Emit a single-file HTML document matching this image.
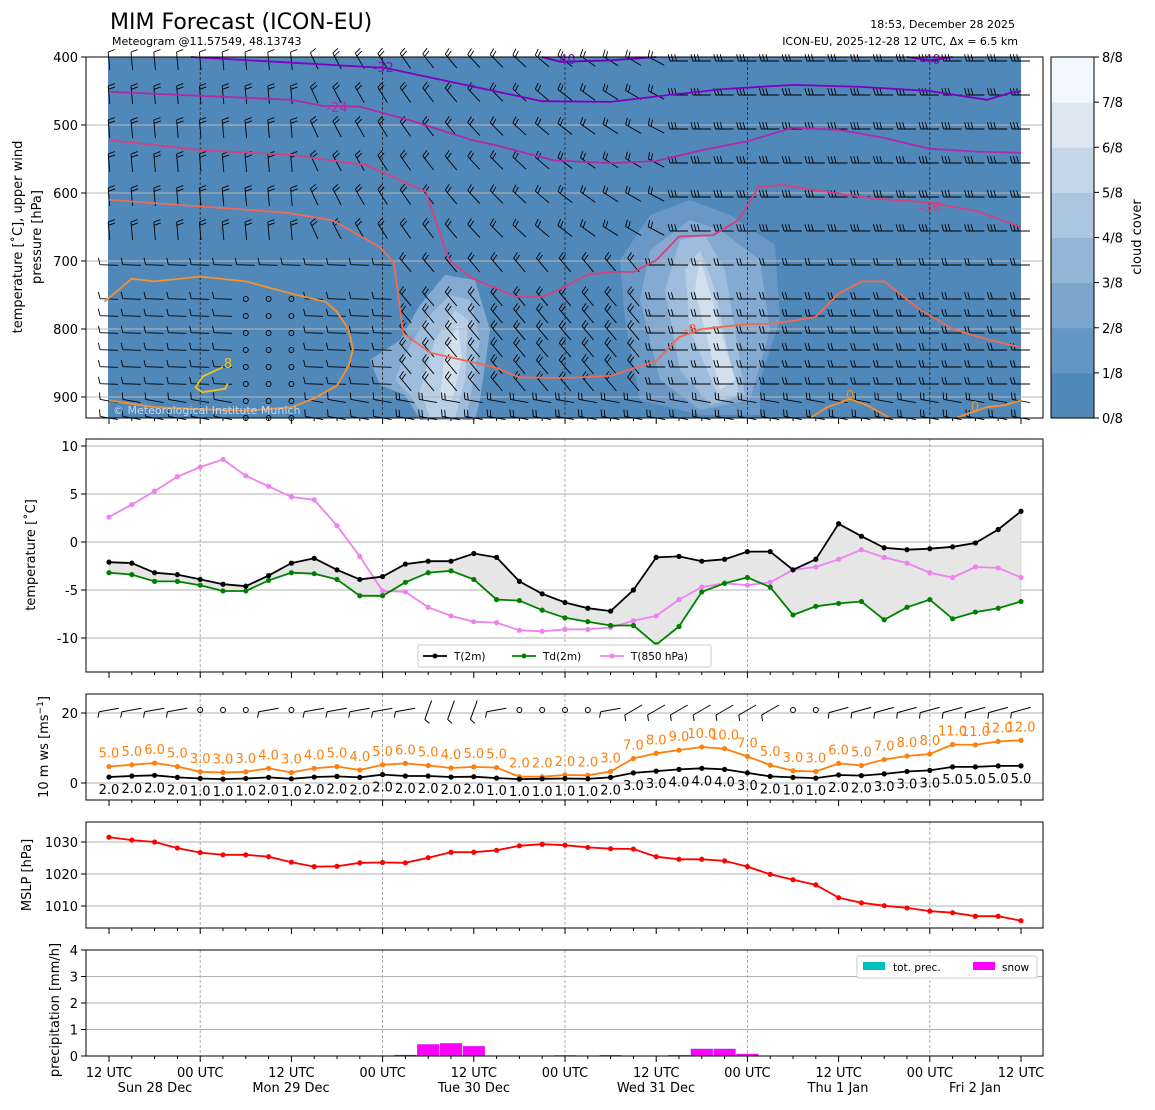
<!DOCTYPE html>
<html><head><meta charset="utf-8"><style>
html,body{margin:0;padding:0;background:#fff}
svg text{font-family:"DejaVu Sans","Liberation Sans",sans-serif}
</style></head><body>
<svg id="s" width="1155" height="1105" viewBox="0 0 1155 1105" xmlns="http://www.w3.org/2000/svg">
<text x="110" y="29" font-size="22">MIM Forecast (ICON-EU)</text>
<text x="112" y="45" font-size="11">Meteogram @11.57549, 48.13743</text>
<text x="1015" y="28" font-size="11" text-anchor="end">18:53, December 28 2025</text>
<text x="1018" y="45" font-size="11" text-anchor="end">ICON-EU, 2025-12-28 12 UTC, Δx = 6.5 km</text>
<g id="g"></g>
</svg>
<script>
// ---------- data ----------
const times = Array.from({length:41},(_,i)=>i); // 3-hourly steps from 12 UTC Sun 28 Dec
const t2m = [-2.1,-2.2,-3.2,-3.4,-3.9,-4.4,-4.6,-3.5,-2.2,-1.7,-2.9,-3.9,-3.6,-2.3,-2.0,-2.0,-1.2,-1.6,-4.1,-5.4,-6.3,-6.9,-7.2,-5.0,-1.6,-1.5,-2.0,-1.8,-1.0,-1.0,-2.9,-1.8,1.9,0.6,-0.6,-0.8,-0.7,-0.5,-0.1,1.3,3.2];
const td2m = [-3.2,-3.4,-4.1,-4.1,-4.5,-5.1,-5.1,-4.0,-3.2,-3.3,-3.9,-5.6,-5.6,-4.2,-3.2,-3.0,-3.9,-6.0,-6.1,-7.1,-7.9,-8.3,-8.7,-8.7,-10.7,-8.8,-5.2,-4.3,-3.7,-4.7,-7.6,-6.7,-6.4,-6.2,-8.1,-6.8,-6.0,-8.0,-7.3,-6.9,-6.2];
const t850 = [2.6,3.9,5.3,6.8,7.8,8.6,6.9,5.8,4.7,4.4,1.7,-1.5,-5.1,-5.2,-6.8,-7.7,-8.3,-8.4,-9.2,-9.3,-9.1,-9.1,-8.9,-8.2,-7.7,-6.0,-4.7,-4.3,-4.5,-4.2,-2.9,-2.6,-1.8,-0.8,-1.6,-2.2,-3.2,-3.7,-2.6,-2.7,-3.7];
const ws10 = [1.7,2.0,2.2,1.6,1.3,1.1,1.3,1.6,1.2,1.7,1.9,1.6,2.4,2.0,2.0,1.7,1.8,1.4,1.1,1.2,1.3,1.2,1.6,2.9,3.4,3.9,4.2,3.9,2.9,1.9,1.6,1.4,2.3,2.1,2.6,3.3,3.6,4.6,4.6,4.9,4.9];
const gust10 = [4.7,5.2,5.7,4.7,3.2,3.0,3.2,4.2,3.0,4.2,4.7,3.7,5.2,5.6,5.0,4.3,4.6,4.4,1.8,1.8,2.3,2.2,3.3,7.0,8.5,9.4,10.3,9.8,7.6,5.1,3.5,3.3,5.6,5.0,6.7,7.7,8.3,11.0,10.9,11.9,12.2];
const wsLabels = [2,2,2,2,1,1,1,2,1,2,2,2,2,2,2,2,2,1,1,1,1,1,2,3,3,4,4,4,3,2,1,1,2,2,3,3,3,5,5,5,5];
const gustLabels = [5,5,6,5,3,3,3,4,3,4,5,4,5,6,5,4,5,5,2,2,2,2,3,7,8,9,10,10,7,5,3,3,6,5,7,8,8,11,11,12,12];
const mslp = [1031.5,1030.6,1030.0,1028.1,1026.7,1026.0,1026.0,1025.4,1023.7,1022.3,1022.4,1023.5,1023.6,1023.5,1025.1,1026.8,1026.8,1027.4,1028.8,1029.3,1029.0,1028.3,1027.9,1027.8,1025.4,1024.6,1024.6,1024.1,1022.3,1019.9,1018.2,1016.6,1012.6,1011.0,1010.1,1009.4,1008.4,1007.9,1006.8,1006.8,1005.4];
const totPrec = [0,0,0,0,0,0,0,0,0,0,0,0,0,0.04,0.44,0.48,0.37,0,0,0,0.03,0,0.03,0,0,0.03,0.27,0.27,0.08,0,0,0,0,0,0,0,0,0,0,0,0];
const snowPrec = [0,0,0,0,0,0,0,0,0,0,0,0,0,0.04,0.44,0.48,0.37,0,0,0,0,0,0.03,0,0,0.03,0.27,0.27,0.08,0,0,0,0,0,0,0,0,0,0,0,0];
const tTicks = [10,5,0,-5,-10];
const wTicks = [0,20];
const pTicks = [1010,1020,1030];
const rTicks = [0,1,2,3,4];
const hpaTicks = [400,500,600,700,800,900];
const cloudTicks = ['0/8','1/8','2/8','3/8','4/8','5/8','6/8','7/8','8/8'];
const iso_m32 = [[3.6,400],[12.1,416],[15.9,443],[19,465],[22,466],[24.5,456],[27,447],[30,441],[33,444],[36,450],[38.5,463],[39.5,453],[40,450]];
const iso_m24 = [[0,451],[4,457],[8,463],[9.4,472],[11,473],[13.3,494],[15.9,522],[17,530],[19.5,552],[22,556],[24,553],[26,537],[28,524],[30,504],[32,507],[34,519],[36,535],[38,539],[40,541]];
const iso_m16 = [[0,522],[4,537],[8,544],[11.3,559],[13.9,598],[14.9,698],[15.9,725],[17.9,753],[19,753],[19.7,743],[21,720],[22,716],[23,716],[24,699],[25,664],[26.5,662],[27.6,640],[28.5,591],[29.5,588],[31,596],[33.5,608],[36,614],[38,626],[40,650]];
const iso_m8 = [[0,610],[7.8,629],[9.8,640],[11.9,680],[12.5,703],[12.9,806],[14.1,835],[16.9,856],[18,871],[20,872],[22,869],[24,847],[25,812],[26,800],[28,793],[29,792],[30,788],[31,782],[32,748],[33,730],[34,730],[35.5,770],[37,800],[38.5,815],[40,827]];
const iso_0 = [[-0.2,760],[1,726],[2,730],[4,723],[6,730],[8,748],[9.5,760],[10,775],[10.5,800],[10.7,830],[10.5,855],[10,883],[9,902],[8,915],[6,920],[4,918],[2,915],[1,910],[0,905]];
const iso_0b = [[30.8,930],[31.5,915],[32.5,903],[33.3,913],[34.2,930]];
const iso_0c = [[37.2,930],[38.5,915],[39.3,912],[40,905]];
const iso_8 = [[5,856],[4.1,870],[3.8,886],[4.1,893],[5.1,888],[5.2,880]];

// ---------- helpers ----------
const NS='http://www.w3.org/2000/svg';
const G=document.getElementById('g');
function el(tag,attrs,parent,txt){const e=document.createElementNS(NS,tag);for(const k in attrs)e.setAttribute(k,attrs[k]);if(txt!==undefined)e.textContent=txt;(parent||G).appendChild(e);return e;}
const X0=109,X1=1021;
const xAt=i=>X0+(X1-X0)*i/40;
const yHpa=p=>57+(p-400)*0.68;
const yT=v=>542-v*9.6;
const yW=v=>783-v*3.5;
const yP=v=>842-(v-1030)*3.2;
const yR=v=>1056-v*26.5;
const pts=(arr,fy)=>arr.map((v,i)=>xAt(i).toFixed(1)+','+fy(v).toFixed(1)).join(' ');
const dayLines=[4,12,20,28,36];

// ---------- panel 1 ----------
const p1=el('g',{});


el('rect',{x:108,y:57,width:913,height:361,fill:'#5088ba'},p1);
const cloudFills=['#6a98c6','#84aad1','#9ebcdb','#b8cee5','#d2e0ee','#eef3f9'];
const blobA=[[[420,420],[405,395],[380,385],[370,360],[400,340],[420,305],[445,275],[475,280],[490,330],[480,400],[475,420]],
 [[425,420],[410,395],[395,380],[405,355],[425,320],[450,295],[470,300],[480,340],[470,400],[465,420]],
 [[430,418],[420,390],[435,340],[455,310],[468,320],[465,380],[455,418]],
 [[440,400],[445,350],[458,325],[462,360],[452,400]]];
const blobB=[[[640,400],[625,320],[620,260],[650,215],[690,200],[730,215],[775,245],[780,320],[760,380],[760,415],[700,415]],
 [[660,380],[640,300],[650,250],[690,220],[720,230],[760,260],[770,330],[750,400],[700,410]],
 [[680,370],[665,290],[680,240],[705,235],[725,270],[735,330],[745,395],[710,405]],
 [[690,330],[685,270],[700,250],[715,290],[730,360],[740,395],[720,400]],
 [[695,290],[700,258],[712,300],[735,380],[720,390]]];
[blobA,blobB].forEach((b,bi)=>b.forEach((poly,j)=>{const e=el('polygon',{points:poly.map(p=>p.join(',')).join(' '),fill:cloudFills[Math.min(j+(bi?0:1),5)]},p1);}));
hpaTicks.forEach(p=>{el('line',{x1:86,x2:1043,y1:yHpa(p),y2:yHpa(p),stroke:'#b8b8b8','stroke-width':1},p1);});
dayLines.forEach(i=>el('line',{x1:xAt(i),x2:xAt(i),y1:57,y2:418,stroke:'#222','stroke-width':0.8,'stroke-dasharray':'3,2'},p1));
const levels=[400,450,500,550,600,650,700,750,775,800,825,850,875,900,925];
const bg=el('g',{stroke:'#000','stroke-width':0.9,fill:'none'},p1);


for(let c=0;c<41;c++){for(let r=0;r<levels.length;r++){
  const x=xAt(c),y=yHpa(levels[r])+4;
  if(r>=7&&c>=6&&c<=8){el('circle',{cx:x,cy:y,r:2.5},bg);continue;}
  let a,n;
  if(r<=5){ if(c<=8){a=-5;n=2;} else if(c<=24){a=-25-(c-9)*2.5;n=2;} else {a=-90;n=3;} if(r==0&&c<10)n=1;}
  else { if(c<=12){a=-88;n=1;} else if(c<=23){a=-40;n=2;} else {a=-90;n=2;} if(r>=13)a=-80;}
  const rad=a*Math.PI/180,L=18;
  const dx=Math.sin(rad)*L,dy=-Math.cos(rad)*L;
  const ex=x+dx*0.5,ey=y+dy*0.5,sx=x-dx*0.5,sy=y-dy*0.5;
  let d=`M${sx.toFixed(1)},${sy.toFixed(1)}L${ex.toFixed(1)},${ey.toFixed(1)}`;
  for(let k=0;k<n;k++){const f=k*0.18;const bx=ex-dx*f,by=ey-dy*f;const br=rad+Math.PI/2.4;d+=`M${bx.toFixed(1)},${by.toFixed(1)}l${(Math.sin(br)*7).toFixed(1)},${(-Math.cos(br)*7).toFixed(1)}`;}
  el('path',{d},bg);
}}
function iso(arr,color,name){const e=el('polyline',{points:arr.map(([t,p])=>xAt(t).toFixed(1)+','+yHpa(p).toFixed(1)).join(' '),fill:'none',stroke:color,'stroke-width':1.8},p1);}
iso([[19,400],[19.8,407],[22,405],[24,400]],'#6a00b0','isotherm-minus40');
iso([[35,400],[36,405],[37,400]],'#6a00b0','isotherm-minus40b');
iso(iso_m32,'#8000c0','isotherm-minus32');
iso(iso_m24,'#b02aa8','isotherm-minus24');
iso(iso_m16,'#d54080','isotherm-minus16');
iso(iso_m8,'#ef6b55','isotherm-minus8');
iso(iso_0,'#f69030','isotherm-0');
iso(iso_0b,'#f69030','isotherm-0-east');
iso(iso_0c,'#f69030','isotherm-0-far-east');
iso(iso_8,'#f2c21c','isotherm-8');
[['-40',565,64,'#7a10b8'],['-32',383,72,'#8a10c0'],['-24',337,112,'#b02aa8'],['-16',930,212,'#d54080'],['-8',690,334,'#ef6b55'],['-40',930,64,'#7a10b8'],['8',228,368,'#f2c21c'],['0',850,400,'#f69030'],['0',975,411,'#f69030']].forEach(([t,x,y,c])=>{const e=el('text',{x,y,'font-size':13,fill:c,'text-anchor':'middle'},p1,t);});
const cr=el('text',{x:113,y:414,'font-size':11,fill:'#c9d7e8'},p1,'© Meteorological Institute Munich');

el('rect',{x:86,y:57,width:957,height:361,fill:'none',stroke:'#000','stroke-width':1},p1);
hpaTicks.forEach(p=>{el('line',{x1:81,x2:86,y1:yHpa(p),y2:yHpa(p),stroke:'#000'},p1);const t=el('text',{x:78,y:yHpa(p)+5,'font-size':13,'text-anchor':'end'},p1,p);});
for(let i=0;i<41;i++){el('line',{x1:xAt(i),x2:xAt(i),y1:418,y2:i%4==0?424:421,stroke:'#000'},p1);}
const yl1=el('text',{transform:'translate(22,237) rotate(-90)','font-size':13,'text-anchor':'middle'},p1,'temperature [˚C], upper wind');

const yl1b=el('text',{transform:'translate(41,237) rotate(-90)','font-size':13,'text-anchor':'middle'},p1,'pressure [hPa]');

const cb=el('g',{},p1);

const cbCols=['#5088ba','#6496c4','#7ca5cd','#94b6d6','#acc6df','#c4d6e8','#dce6f0','#f2f7fb'];
cbCols.forEach((c,i)=>el('rect',{x:1051,y:418-(i+1)*45.125,width:43,height:45.6,fill:c},cb));
el('rect',{x:1051,y:57,width:43,height:361,fill:'none',stroke:'#000'},cb);
cloudTicks.forEach((t,i)=>{const y=418-i*45.125;el('line',{x1:1094,x2:1099,y1:y,y2:y,stroke:'#000'},cb);el('text',{x:1102,y:y+5,'font-size':13},cb,t);});
const cbl=el('text',{transform:'translate(1141,237) rotate(-90)','font-size':13,'text-anchor':'middle'},cb,'cloud cover');


function frame(y0,y1,name){const g=el('g',{});
 dayLines.forEach(i=>el('line',{x1:xAt(i),x2:xAt(i),y1:y0,y2:y1,stroke:'#999','stroke-width':0.8,'stroke-dasharray':'3,2'},g));
 return g;}
function finish(g,y0,y1){el('rect',{x:86,y:y0,width:957,height:y1-y0,fill:'none',stroke:'#000'},g);for(let i=0;i<41;i++){el('line',{x1:xAt(i),x2:xAt(i),y1:y1,y2:y1+(i%4==0?6:3),stroke:'#000'},g);}}
function yticks(g,ticks,fy,grid){ticks.forEach(v=>{const y=fy(v);if(grid)el('line',{x1:86,x2:1043,y1:y,y2:y,stroke:'#b0b0b0'},g);el('line',{x1:81,x2:86,y1:y,y2:y,stroke:'#000'},g);const t=el('text',{x:78,y:y+5,'font-size':13,'text-anchor':'end'},g,v);});}

// ---------- panel 2 ----------
const p2=frame(439,672,'temperature-panel');
yticks(p2,tTicks,yT,true);
const fillPts=pts(t2m,yT)+' '+td2m.map((v,i)=>xAt(i).toFixed(1)+','+yT(v).toFixed(1)).reverse().join(' ');
const fa=el('polygon',{points:fillPts,fill:'#e6e6e6',stroke:'#c8c8c8','stroke-width':0.6},p2);

function series(g,arr,fy,color,name){const l=el('polyline',{points:pts(arr,fy),fill:'none',stroke:color,'stroke-width':1.8},g);
 arr.forEach((v,i)=>{const c=el('circle',{cx:xAt(i),cy:fy(v),r:2.6,fill:color},g);});}
series(p2,t850,yT,'#ee82ee','t850-line');
series(p2,td2m,yT,'#008000','td2m-line');
series(p2,t2m,yT,'#000000','t2m-line');
finish(p2,439,672);
const lg=el('g',{},p2);
el('rect',{x:418,y:645,width:293,height:22,fill:'#fff',stroke:'#ccc',rx:2},lg);
[['T(2m)',423,'#000'],['Td(2m)',512,'#008000'],['T(850 hPa)',600,'#ee82ee']].forEach(([t,x,c])=>{el('line',{x1:x,x2:x+24,y1:656,y2:656,stroke:c,'stroke-width':1.8},lg);el('circle',{cx:x+12,cy:656,r:2.5,fill:c},lg);el('text',{x:x+31,y:660,'font-size':10.5},lg,t);});
const yl2=el('text',{transform:'translate(35,555) rotate(-90)','font-size':13,'text-anchor':'middle'},p2,'temperature [˚C]');


// ---------- panel 3 ----------
const p3=frame(694,800,'wind-panel');
yticks(p3,wTicks,yW,true);
series(p3,gust10,yW,'#ff7f0e','gust-line');
series(p3,ws10,yW,'#000000','wind-speed-line');
gust10.forEach((v,i)=>{const t=el('text',{x:xAt(i),y:yW(v)-9,'font-size':13,fill:'#ff7f0e','text-anchor':'middle'},p3,gustLabels[i].toFixed(1));});
ws10.forEach((v,i)=>{const t=el('text',{x:xAt(i),y:yW(v)+17,'font-size':13,fill:'#000','text-anchor':'middle'},p3,wsLabels[i].toFixed(1));});
const sb=el('g',{stroke:'#000','stroke-width':1,fill:'none'},p3);

for(let i=0;i<41;i++){const x=xAt(i),y=710;
 if(wsLabels[i]<=1&&i!==17){el('circle',{cx:x,cy:y,r:2.5},sb);continue;}
 let a=i<23?-100:(i<30?-120:-105); if(i>=14&&i<=16)a=-160;
 const rad=a*Math.PI/180,L=20,dx=Math.sin(rad)*L,dy=-Math.cos(rad)*L;
 el('path',{d:`M${(x-dx/2).toFixed(1)},${(y-dy/2).toFixed(1)}l${dx.toFixed(1)},${dy.toFixed(1)}m0,0l${(Math.sin(rad-1.2)*6).toFixed(1)},${(-Math.cos(rad-1.2)*6).toFixed(1)}`},sb);}
finish(p3,694,800);
const yl3=el('text',{transform:'translate(48,747) rotate(-90)','font-size':13,'text-anchor':'middle'},p3);

yl3.innerHTML='10 m ws [ms<tspan dy="-5" font-size="9">−1</tspan><tspan dy="5">]</tspan>';

// ---------- panel 4 ----------
const p4=frame(822,928,'mslp-panel');
yticks(p4,pTicks,yP,true);
series(p4,mslp,yP,'#ff0000','mslp-line');
finish(p4,822,928);
const yl4=el('text',{transform:'translate(31,875) rotate(-90)','font-size':13,'text-anchor':'middle'},p4,'MSLP [hPa]');


// ---------- panel 5 ----------
const p5=frame(950,1056,'precipitation-panel');
yticks(p5,rTicks,yR,true);
totPrec.forEach((v,i)=>{if(v<=0)return;const b=el('rect',{x:xAt(i)-11,y:yR(v),width:22,height:1056-yR(v),fill:'#00bfbf'},p5);});
snowPrec.forEach((v,i)=>{if(v<=0)return;const b=el('rect',{x:xAt(i)-11,y:yR(v),width:22,height:1056-yR(v),fill:'#ff00ff'},p5);});
finish(p5,950,1056);
const lg5=el('g',{},p5);
el('rect',{x:857,y:956,width:180,height:22,fill:'#fff',stroke:'#ccc',rx:2},lg5);
el('rect',{x:863,y:962,width:22,height:8,fill:'#00bfbf'},lg5);el('text',{x:893,y:971,'font-size':10.5},lg5,'tot. prec.');
el('rect',{x:973,y:962,width:22,height:8,fill:'#ff00ff'},lg5);el('text',{x:1002,y:971,'font-size':10.5},lg5,'snow');
const yl5=el('text',{transform:'translate(59,1010) rotate(-90)','font-size':13,'text-anchor':'middle'},p5,'precipitation [mm/h]');


for(let i=0;i<41;i+=4){const t=el('text',{x:xAt(i),y:1077,'font-size':13,'text-anchor':'middle'},G,(i%8==0?'12 UTC':'00 UTC'));}
[['Sun 28 Dec',155],['Mon 29 Dec',291],['Tue 30 Dec',474],['Wed 31 Dec',656],['Thu 1 Jan',838],['Fri 2 Jan',975]].forEach(([t,x])=>{const e=el('text',{x,y:1092,'font-size':13,'text-anchor':'middle'},G,t);});
</script>
</body></html>
